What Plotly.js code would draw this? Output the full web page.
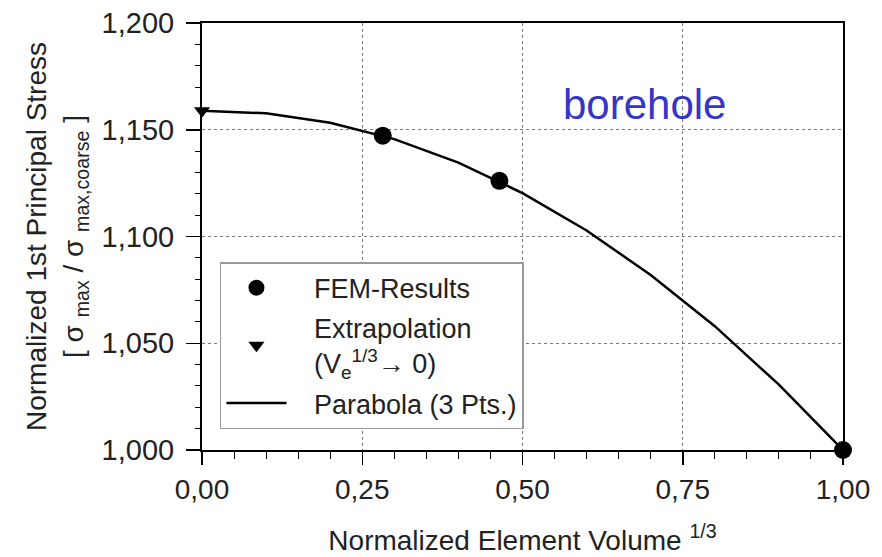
<!DOCTYPE html>
<html>
<head>
<meta charset="utf-8">
<script src="https://cdn.plot.ly/plotly-3.0.1.min.js"></script>
<style>html,body{margin:0;padding:0;background:#fff;}#chart{width:882px;height:557px;}</style>
</head>
<body>
<div id="chart"></div>
<script>
// FEM results
const femX = [0.282, 0.464, 1.00];
const femY = [1.1472, 1.1261, 1.000];
// Extrapolation (Ve^1/3 -> 0)
const extraX = [0.0];
const extraY = [1.1589];
// Parabola (3 Pts.) read at 0.1 steps
const parX = [0.0, 0.1, 0.2, 0.3, 0.4, 0.5, 0.6, 0.7, 0.8, 0.9, 1.0];
const parY = [1.1589, 1.1577, 1.1533, 1.1456, 1.1346, 1.1203, 1.1028, 1.0820, 1.0580, 1.0306, 1.0000];
// Ticks
const xTicks = [0, 0.25, 0.5, 0.75, 1.0];
const yTicks = [1.000, 1.050, 1.100, 1.150, 1.200];

const FONT = "Liberation Sans, Arial, sans-serif";
const TXT = "#222";
const PAD = "&nbsp;&nbsp;&nbsp;";

const data = [
  {x: parX, y: parY, type: 'scatter', mode: 'lines', name: PAD + 'Parabola (3 Pts.)',
   line: {color: '#000', width: 2.5}, legendrank: 3, legendgroup: 'c'},
  {x: femX, y: femY, type: 'scatter', mode: 'markers', name: PAD + 'FEM-Results',
   marker: {symbol: 'circle', size: 18, color: '#000'}, cliponaxis: false, legendrank: 1, legendgroup: 'a'},
  {x: extraX, y: extraY, type: 'scatter', mode: 'markers',
   name: PAD + 'Extrapolation<br>' + PAD + '(V<sub>e</sub><sup>1/3</sup>→ 0)',
   marker: {symbol: 'triangle-down', size: 14, color: '#000'}, cliponaxis: false, legendrank: 2, legendgroup: 'b'}
];

const layout = {
  width: 882, height: 557,
  margin: {l: 202, r: 39, t: 23, b: 107},
  paper_bgcolor: '#fff', plot_bgcolor: '#fff',
  separators: ',.',
  font: {family: FONT, color: TXT, size: 24},
  showlegend: true,
  legend: {
    x: 0.028, y: 0.44, xanchor: 'left', yanchor: 'top',
    bgcolor: '#fff', bordercolor: '#999', borderwidth: 1.5,
    font: {family: FONT, size: 27, color: TXT},
    traceorder: 'grouped', tracegroupgap: 2, itemwidth: 60
  },
  xaxis: {
    range: [0, 1], tickvals: xTicks, tickformat: '.2f',
    showline: true, linecolor: '#000', linewidth: 2, mirror: true,
    ticks: 'outside', ticklen: 13, tickcolor: '#000', tickwidth: 1.5,
    showgrid: true, gridcolor: '#777', griddash: 'dot', gridwidth: 1,
    zeroline: false,
    tickfont: {family: FONT, size: 28, color: TXT},
    minor: {dtick: 0.05, ticks: 'outside', ticklen: 7, tickcolor: '#000', tickwidth: 1, showgrid: false},
    title: {text: 'Normalized Element Volume <sup>1/3</sup>', font: {family: FONT, size: 28, color: TXT}, standoff: 27}
  },
  yaxis: {
    range: [1.0, 1.2], tickvals: yTicks, tickformat: '.3f',
    showline: true, linecolor: '#000', linewidth: 2, mirror: true,
    ticks: 'outside', ticklen: 14, tickcolor: '#000', tickwidth: 1.5, ticklabelstandoff: 6,
    showgrid: true, gridcolor: '#777', griddash: 'dot', gridwidth: 1,
    zeroline: false,
    tickfont: {family: FONT, size: 29, color: TXT},
    minor: {dtick: 0.01, ticks: 'outside', ticklen: 5, tickcolor: '#000', tickwidth: 1, showgrid: false},
    title: {text: 'Normalized 1st Principal Stress<br>[ σ <sub>max</sub> / σ <sub>max,coarse</sub> ]', font: {family: FONT, size: 28, color: TXT}, standoff: 10}
  },
  annotations: [
    {xref: 'paper', yref: 'paper', x: 0.691, y: 0.81, xanchor: 'center', yanchor: 'middle',
     text: 'borehole', showarrow: false, font: {family: FONT, size: 42, color: '#3535c8'}}
  ]
};

Plotly.newPlot('chart', data, layout, {displayModeBar: false, staticPlot: true});
</script>
</body>
</html>
